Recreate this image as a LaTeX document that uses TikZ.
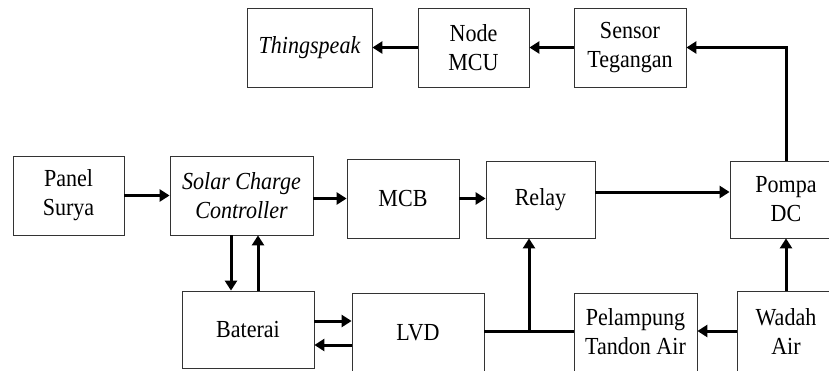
\documentclass[tikz,border=0pt]{standalone}
\usepackage{fontspec}
\setmainfont{Liberation Serif}[FakeStretch=0.9]
\usetikzlibrary{arrows.meta}
\begin{document}
\begin{tikzpicture}[x=1pt,y=-1pt,
  box/.style={draw=black!80, line width=0.8pt, inner sep=0pt, align=center,
    font=\fontsize{24.5}{29}\selectfont},
  arr/.style={line width=3pt, line join=miter, -{Triangle[length=10pt,width=12pt]}},
  wire/.style={line width=3pt}]
\useasboundingbox (0,0) rectangle (829,370);
\clip (0,0) rectangle (829,370);
\fill[white] (0,0) rectangle (829,370);
% top row
\node[box, minimum width=125, minimum height=79] (think) at (309.5,47.5) {\itshape Thingspeak};
\node[box, minimum width=111, minimum height=79] (mcu) at (473.5,47.5) {Node\\MCU};
\node[box, minimum width=112, minimum height=79] (sensor) at (630,47.5) {Sensor\\Tegangan};
% middle row
\node[box, minimum width=111, minimum height=79] (panel) at (68.5,195.5) {Panel\\Surya};
\node[box, minimum width=143, minimum height=79] (scc) at (241.5,195.5) {\itshape Solar Charge\\\itshape Controller};
\node[box, minimum width=112, minimum height=79] (mcb) at (403,198.5) {MCB};
\node[box, minimum width=109, minimum height=77] (relay) at (540.5,199.5) {Relay};
\node[box, minimum width=112, minimum height=77] (pompa) at (786,199.5) {Pompa\\DC};
% bottom row
\node[box, minimum width=132, minimum height=77] (baterai) at (248,329.5) {Baterai};
\node[box, minimum width=132, minimum height=80] (lvd) at (418,333) {LVD};
\node[box, minimum width=123, minimum height=78] (pel) at (635.5,332) {Pelampung\\Tandon Air};
\node[box, minimum width=98, minimum height=81] (wadah) at (786,331.5) {Wadah\\Air};
% connectors
\draw[arr] (panel.east) -- (scc.west);
\draw[arr] (scc.east |- mcb.west) -- (mcb.west);
\draw[arr] (mcb.east) -- (mcb.east -| relay.west);
\draw[arr] (relay.east |- 0,192) -- (pompa.west |- 0,192);
\draw[arr] (scc.south -| 231,0) -- (baterai.north -| 231,0);
\draw[arr] (baterai.north -| 258,0) -- (scc.south -| 258,0);
\draw[arr] (baterai.east |- 0,321) -- (lvd.west |- 0,321);
\draw[arr] (lvd.west |- 0,345) -- (baterai.east |- 0,345);
\coordinate (j) at (529,331);
\draw[wire] (lvd.east |- j) -- (pel.west |- j);
\draw[arr] (j) -- (relay.south -| j);
\draw[arr] (wadah.west |- j) -- (pel.east |- j);
\draw[arr] (wadah.north) -- (pompa.south);
\draw[arr] (pompa.north) |- (sensor.east);
\draw[arr] (sensor.west) -- (mcu.east);
\draw[arr] (mcu.west) -- (think.east);
\end{tikzpicture}
\end{document}
